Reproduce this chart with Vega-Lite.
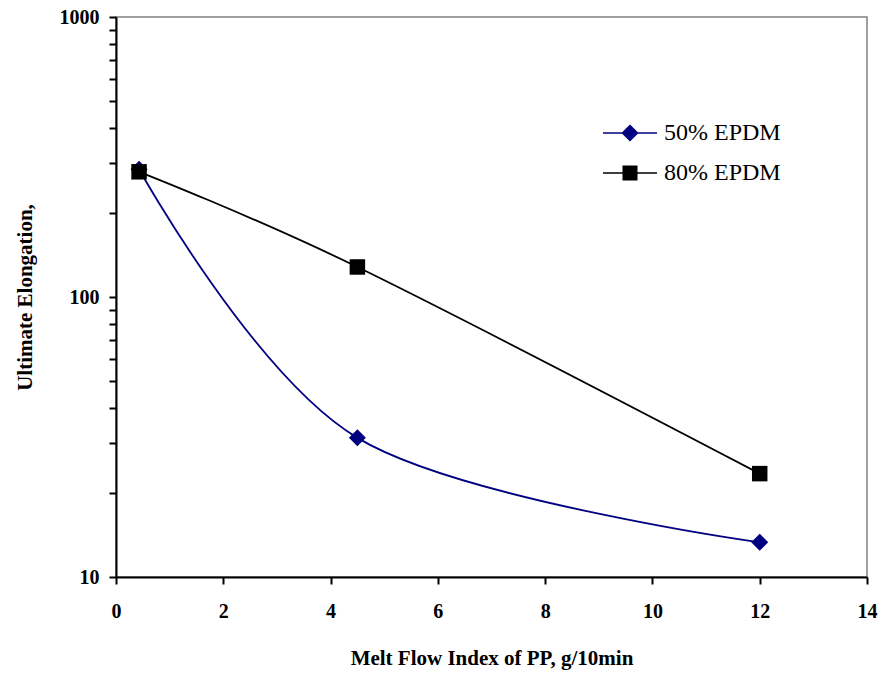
{
  "$schema": "https://vega.github.io/schema/vega-lite/v6.json",
  "width": 751,
  "height": 560,
  "autosize": "none",
  "padding": {"left": 116, "top": 17, "right": 11, "bottom": 96},
  "background": "white",
  "config": {
    "view": {"stroke": "#808080", "strokeWidth": 1.5},
    "font": "Liberation Serif"
  },
  "data": {
    "values": [
      {"mfi": 0.43, "elong": 286, "series": "50% EPDM"},
      {"mfi": 4.5, "elong": 31.4, "series": "50% EPDM"},
      {"mfi": 12, "elong": 13.3, "series": "50% EPDM"},
      {"mfi": 0.43, "elong": 280, "series": "80% EPDM"},
      {"mfi": 4.5, "elong": 128, "series": "80% EPDM"},
      {"mfi": 12, "elong": 23.4, "series": "80% EPDM"}
    ]
  },
  "encoding": {
    "x": {
      "field": "mfi",
      "type": "quantitative",
      "scale": {"domain": [0, 14], "nice": false, "zero": false},
      "axis": {
        "values": [0, 2, 4, 6, 8, 10, 12, 14],
        "format": "d",
        "title": "Melt Flow Index of PP, g/10min",
        "titleFont": "Liberation Serif",
        "titleFontSize": 21,
        "titleFontWeight": "bold",
        "titleColor": "black",
        "titlePadding": 26,
        "labelFont": "Liberation Serif",
        "labelFontSize": 20,
        "labelFontWeight": "bold",
        "labelColor": "black",
        "labelPadding": 17,
        "labelFlush": false,
        "labelOverlap": false,
        "grid": false,
        "domainColor": "black",
        "domainWidth": 2,
        "tickColor": "black",
        "tickWidth": 2,
        "tickSize": 7,
        "zindex": 1
      }
    },
    "y": {
      "field": "elong",
      "type": "quantitative",
      "scale": {"type": "log", "domain": [10, 1000], "nice": false},
      "axis": {
        "values": [10, 20, 30, 40, 50, 60, 70, 80, 90, 100, 200, 300, 400, 500, 600, 700, 800, 900, 1000],
        "format": "d",
        "labelExpr": "datum.value == 10 || datum.value == 100 || datum.value == 1000 ? datum.label : ''",
        "title": "Ultimate Elongation,",
        "titleFont": "Liberation Serif",
        "titleFontSize": 21,
        "titleFontWeight": "bold",
        "titleColor": "black",
        "titlePadding": 24,
        "labelFont": "Liberation Serif",
        "labelFontSize": 20,
        "labelFontWeight": "bold",
        "labelColor": "black",
        "labelPadding": 10,
        "labelFlush": false,
        "labelOverlap": false,
        "grid": false,
        "domainColor": "black",
        "domainWidth": 2,
        "tickColor": "black",
        "tickWidth": 2,
        "tickSize": 7,
        "zindex": 1
      }
    },
    "color": {
      "field": "series",
      "type": "nominal",
      "scale": {"domain": ["50% EPDM", "80% EPDM"], "range": ["#000080", "#000000"]},
      "legend": {
        "orient": "none",
        "legendX": 486,
        "legendY": 96,
        "title": null,
        "padding": 0,
        "labelFont": "Liberation Serif",
        "labelFontSize": 24,
        "labelColor": "black",
        "labelOffset": 6,
        "symbolSize": 2916,
        "symbolStrokeWidth": 1.5,
        "clipHeight": 40,
        "rowPadding": 0,
        "encode": {
          "symbols": {
            "update": {
              "shape": {"signal": "datum.value === '50% EPDM' ? 'M-1,0H1M0,-0.28L0.28,0L0,0.28L-0.28,0Z' : 'M-1,0H1M-0.25,-0.25H0.25V0.25H-0.25Z'"},
              "fill": {"signal": "datum.value === '50% EPDM' ? '#000080' : '#000000'"},
              "stroke": {"signal": "datum.value === '50% EPDM' ? '#000080' : '#000000'"},
              "strokeWidth": {"value": 1.5},
              "size": {"value": 2916},
              "opacity": {"value": 1},
              "fillOpacity": {"value": 1},
              "strokeOpacity": {"value": 1}
            }
          }
        }
      }
    }
  },
  "layer": [
    {
      "mark": {"type": "line", "interpolate": "cardinal", "strokeWidth": 1.8}
    },
    {
      "transform": [{"filter": "datum.series === '50% EPDM'"}],
      "mark": {"type": "point", "filled": true, "opacity": 1, "shape": "diamond", "size": 289}
    },
    {
      "transform": [{"filter": "datum.series === '80% EPDM'"}],
      "mark": {"type": "point", "filled": true, "opacity": 1, "shape": "square", "size": 240}
    }
  ]
}
